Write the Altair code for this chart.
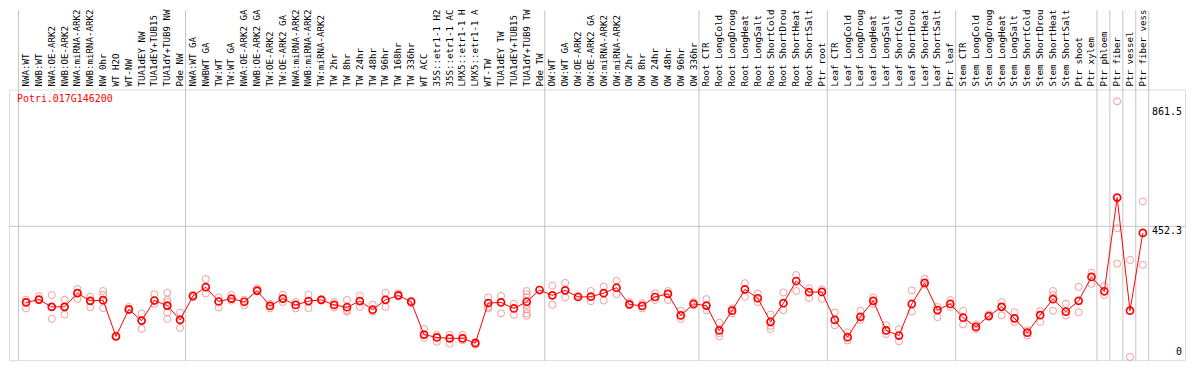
import altair as alt
import pandas as pd

gene = "Potri.017G146200"

names = [
    "NWA:WT", "NWB:WT", "NWA:OE-ARK2", "NWB:OE-ARK2", "NWA:miRNA-ARK2", "NWB:miRNA-ARK2",
    "NW 0hr", "WT H2O", "WT-NW", "TUA1dEY NW", "TUA1dEY+TUB15", "TUA1dY+TUB9 NW", "Pde NW",
    "NWA:WT GA", "NWBWT GA", "TW:WT", "TW:WT GA", "NWA:OE-ARK2 GA", "NWB:OE-ARK2 GA",
    "TW:OE-ARK2", "TW:OE-ARK2 GA", "NWA:miRNA-ARK2", "NWB:miRNA-ARK2", "TW:miRNA-ARK2",
    "TW 2hr", "TW 8hr", "TW 24hr", "TW 48hr", "TW 96hr", "TW 168hr", "TW 336hr", "WT ACC",
    "35S::etr1-1 H2", "35S::etr1-1 AC", "LMX5::etr1-1 H", "LMX5::etr1-1 A", "WT-TW",
    "TUA1dEY TW", "TUA1dEY+TUB15", "TUA1dY+TUB9 TW", "Pde TW",
    "OW:WT", "OW:WT GA", "OW:OE-ARK2", "OW:OE-ARK2 GA", "OW:miRNA-ARK2", "OW:miRNA-ARK2",
    "OW 2hr", "OW 8hr", "OW 24hr", "OW 48hr", "OW 96hr", "OW 336hr",
    "Root CTR", "Root LongCold", "Root LongDroug", "Root LongHeat", "Root LongSalt",
    "Root ShortCold", "Root ShortDrou", "Root ShortHeat", "Root ShortSalt", "Ptr root",
    "Leaf CTR", "Leaf LongCold", "Leaf LongDroug", "Leaf LongHeat", "Leaf LongSalt",
    "Leaf ShortCold", "Leaf ShortDrou", "Leaf ShortHeat", "Leaf ShortSalt", "Ptr leaf",
    "Stem CTR", "Stem LongCold", "Stem LongDroug", "Stem LongHeat", "Stem LongSalt",
    "Stem ShortCold", "Stem ShortDrou", "Stem ShortHeat", "Stem ShortSalt", "Ptr shoot",
    "Ptr xylem", "Ptr phloem", "Ptr fiber", "Ptr vessel", "Ptr fiber vess",
]

means = [
    187.6, 197.5, 172.5, 172.5, 219.6, 193.2, 195.5, 70.4, 163.6, 125.1,
    194.2, 176.8, 127.4, 209.7, 240.3, 190.9, 200.8, 189.9, 228.4, 175.8,
    200.8, 179.1, 192.2, 196.5, 179.1, 171.2, 192.2, 162.6, 196.5, 212.0,
    189.9, 77.0, 67.1, 63.9, 63.9, 47.4, 185.6, 187.6, 166.9, 189.9,
    230.4, 212.0, 229.4, 206.4, 207.4, 219.6, 238.3, 181.0, 175.8, 206.4,
    217.2, 142.9, 182.4, 176.8, 91.2, 159.3, 232.7, 202.1, 120.8, 185.0,
    261.4, 222.8, 223.8, 127.4, 68.1, 138.2, 193.2, 91.2, 73.7, 182.4,
    254.8, 161.3, 182.4, 135.0, 103.4, 140.6, 172.5, 133.0, 83.6, 143.8,
    198.8, 156.0, 193.2, 275.5, 226.1, 548.7, 159.3, 426.9,
]

replicates = [
    [197, 190, 167], [209, 196], [213, 172, 131], [197, 172, 146], [234, 220, 200],
    [207, 193, 171], [227, 214, 196, 168], [74, 70], [172, 161], [149, 125, 97],
    [216, 194, 183], [221, 197, 189, 175, 153, 131], [153, 127, 100], [214, 205], [268, 218],
    [205, 191, 170], [214, 201, 194], [197, 178], [236, 225], [183, 167],
    [214, 189], [189, 167], [214, 168], [199, 194], [189, 170],
    [196, 161, 156], [211, 172], [180, 156], [221, 172], [219, 208],
    [194, 185], [96, 66], [76, 52], [76, 46], [76, 57],
    [52, 43], [205, 172, 167], [210, 189, 150], [183, 145], [227, 216, 205, 178, 164, 150, 142],
    [232], [245, 180], [255, 205], [211], [227, 192],
    [242, 194], [262, 216], [189, 178], [185, 167], [219, 196],
    [227, 196], [159, 131], [189, 178], [199, 161], [118, 82, 71],
    [167, 150], [254, 207], [218, 189], [146, 107, 96], [222, 161],
    [282, 227], [236, 203], [233, 200], [153, 109], [85, 57],
    [159, 128], [205, 183], [109, 79], [96, 54], [229, 156],
    [269, 249], [172, 137], [196, 172], [159, 112], [112, 96],
    [147], [189, 143], [154, 121], [92, 74], [158, 121],
    [227, 213, 159], [183, 143], [241, 154], [290, 252], [244, 213],
    [880, 443, 321], [334, 0], [535, 317],
]

group_sizes = [13, 28, 12, 10, 10, 11, 1, 1, 1, 1]
tick_values = [0, 452.3, 861.5]

W, H = 1182, 272
FONT = "DejaVu Sans Mono"
LABEL_SIZE = 9.2
GRID = "#c4c4c4"

mean_df = pd.DataFrame({"j": list(range(len(names))), "name": names, "mean": means})
rep_df = pd.DataFrame(
    [{"j": j, "v": v} for j, vs in enumerate(replicates) for v in vs]
)
tick_df = pd.DataFrame({"v": tick_values, "label": [str(t) for t in tick_values]})
title_df = pd.DataFrame({"t": [gene]})

bounds = []
s = 0
for g in group_sizes:
    bounds.append(s - 0.62)
    s += g
bounds.append(s - 0.62)

xscale = alt.Scale(domain=[-1.331, 90.285], nice=False, zero=False)
yscale = alt.Scale(domain=[-10.9, 920.7], nice=False, zero=False)
xaxis = alt.Axis(orient="top", values=bounds, grid=True, gridColor=GRID, gridWidth=1,
                 ticks=True, tickSize=80, tickColor=GRID, tickWidth=1,
                 labels=False, domain=False, title=None)
yaxis = alt.Axis(values=[452.3], grid=True, gridColor=GRID, gridWidth=1,
                 labels=False, ticks=False, domain=False, title=None)

X = alt.X("j:Q", scale=xscale, axis=xaxis)

reps_layer = alt.Chart(rep_df).mark_point(
    shape="circle", filled=False, size=50, color="#f08c8c", strokeWidth=1, opacity=0.85
).encode(x=X, y=alt.Y("v:Q", scale=yscale, axis=yaxis))

line_layer = alt.Chart(mean_df).mark_line(color="#ff0000", strokeWidth=1).encode(
    x=X, y=alt.Y("mean:Q", scale=yscale, axis=yaxis)
)

mean_layer = alt.Chart(mean_df).mark_point(
    shape="circle", filled=False, size=50, color="#ff0000", strokeWidth=1.7, opacity=1
).encode(x=X, y=alt.Y("mean:Q", scale=yscale, axis=yaxis))

label_layer = alt.Chart(mean_df).mark_text(
    angle=270, align="left", baseline="middle", font=FONT, fontSize=LABEL_SIZE, color="black"
).encode(x=X, y=alt.value(-3), text="name:N")

tick_top = alt.Chart(tick_df).transform_filter("datum.v > 0").mark_text(
    align="right", baseline="top", font=FONT, fontSize=10, color="black"
).encode(x=alt.value(W - 3), y=alt.Y("v:Q", scale=yscale, axis=yaxis), text="label:N")

tick_zero = alt.Chart(tick_df).transform_filter("datum.v == 0").mark_text(
    align="right", baseline="bottom", font=FONT, fontSize=10, color="black"
).encode(x=alt.value(W - 3), y=alt.Y("v:Q", scale=yscale, axis=yaxis), text="label:N")

title_layer = alt.Chart(title_df).mark_text(
    align="left", baseline="middle", font=FONT, fontSize=10, color="#ff0000"
).encode(x=alt.value(8), y=alt.value(10), text="t:N")

chart = alt.layer(
    reps_layer, line_layer, mean_layer, label_layer, tick_top, tick_zero, title_layer
).properties(
    width=W, height=H, padding={"left": 1, "top": 0, "right": 1, "bottom": 1}
).configure_view(stroke="black", strokeWidth=1).configure(background="white")

chart.save("out.html", embed_options={"renderer": "svg", "actions": False})
